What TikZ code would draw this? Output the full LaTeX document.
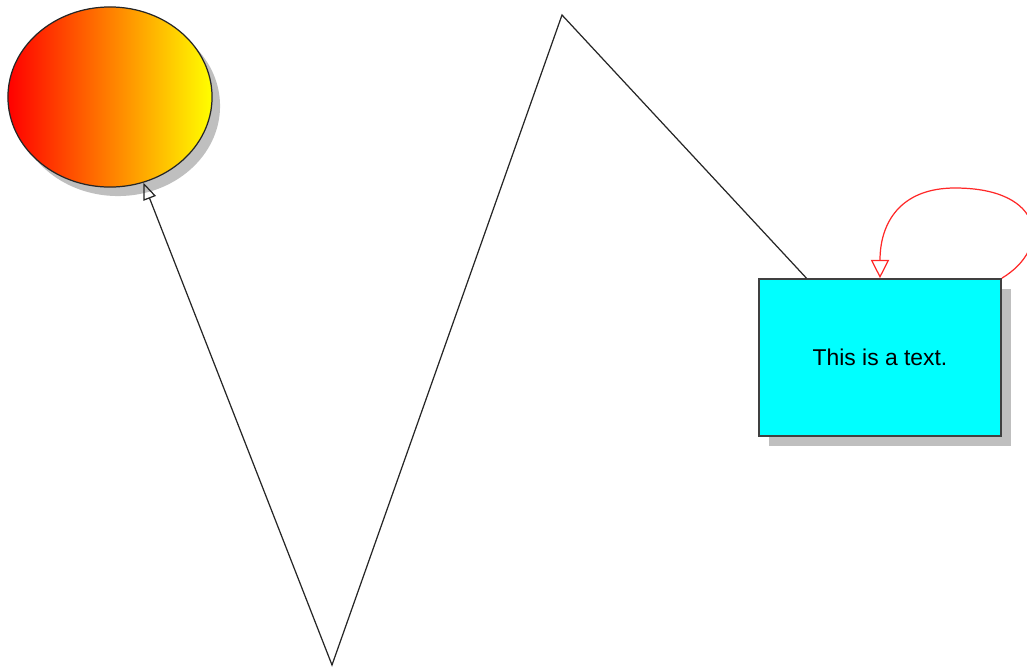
\documentclass[tikz,border=0pt]{standalone}
\usepackage{fontspec}
\setmainfont{Liberation Sans}
\usepackage{tikz}
\usetikzlibrary{arrows.meta,shapes.geometric,shadows}
\definecolor{aqua}{RGB}{0,255,255}
\definecolor{loopred}{RGB}{255,40,40}

\begin{document}
\begin{tikzpicture}[x=0.01cm,y=-0.01cm,
		blobshape/.style={ellipse,draw=black!85,line width=0.35pt,minimum width=2.04cm,minimum height=1.8cm,
			left color=red,right color=yellow,
			drop shadow={shadow xshift=0.08cm,shadow yshift=-0.09cm,fill=black!25,opacity=1}},
		textbox/.style={rectangle,draw=black!75,line width=0.45pt,fill=aqua,minimum width=2.42cm,minimum height=1.57cm,
			font=\fontsize{6.5}{7.8}\selectfont,
			drop shadow={shadow xshift=0.1cm,shadow yshift=-0.1cm,fill=black!25,opacity=1}},
		wire/.style={line width=0.35pt,black!85},
		hollow/.style={-{Triangle[open,length=4.8pt,width=3.8pt]}},
		selfloop/.style={line width=0.35pt,loopred,-{Triangle[open,length=5.2pt,width=5.2pt]}}]
		\useasboundingbox (0,0) rectangle (1027,669);
		\node[blobshape] (blob) at (110,97) {};
		\node[textbox] (box) at (880,357.5) {This is a text.};
		\coordinate (peak) at (562,15);
		\coordinate (valley) at (332,665);
		\coordinate (looptop) at (955,188);
		\draw[wire,hollow] (box) -- (peak) -- (valley) -- (blob);
		\draw[selfloop] (box.north east) .. controls +(50,-30) and +(90,0) .. (looptop) .. controls +(-55,0) and +(0,-55) .. (box.north);
	\end{tikzpicture}
\end{document}
